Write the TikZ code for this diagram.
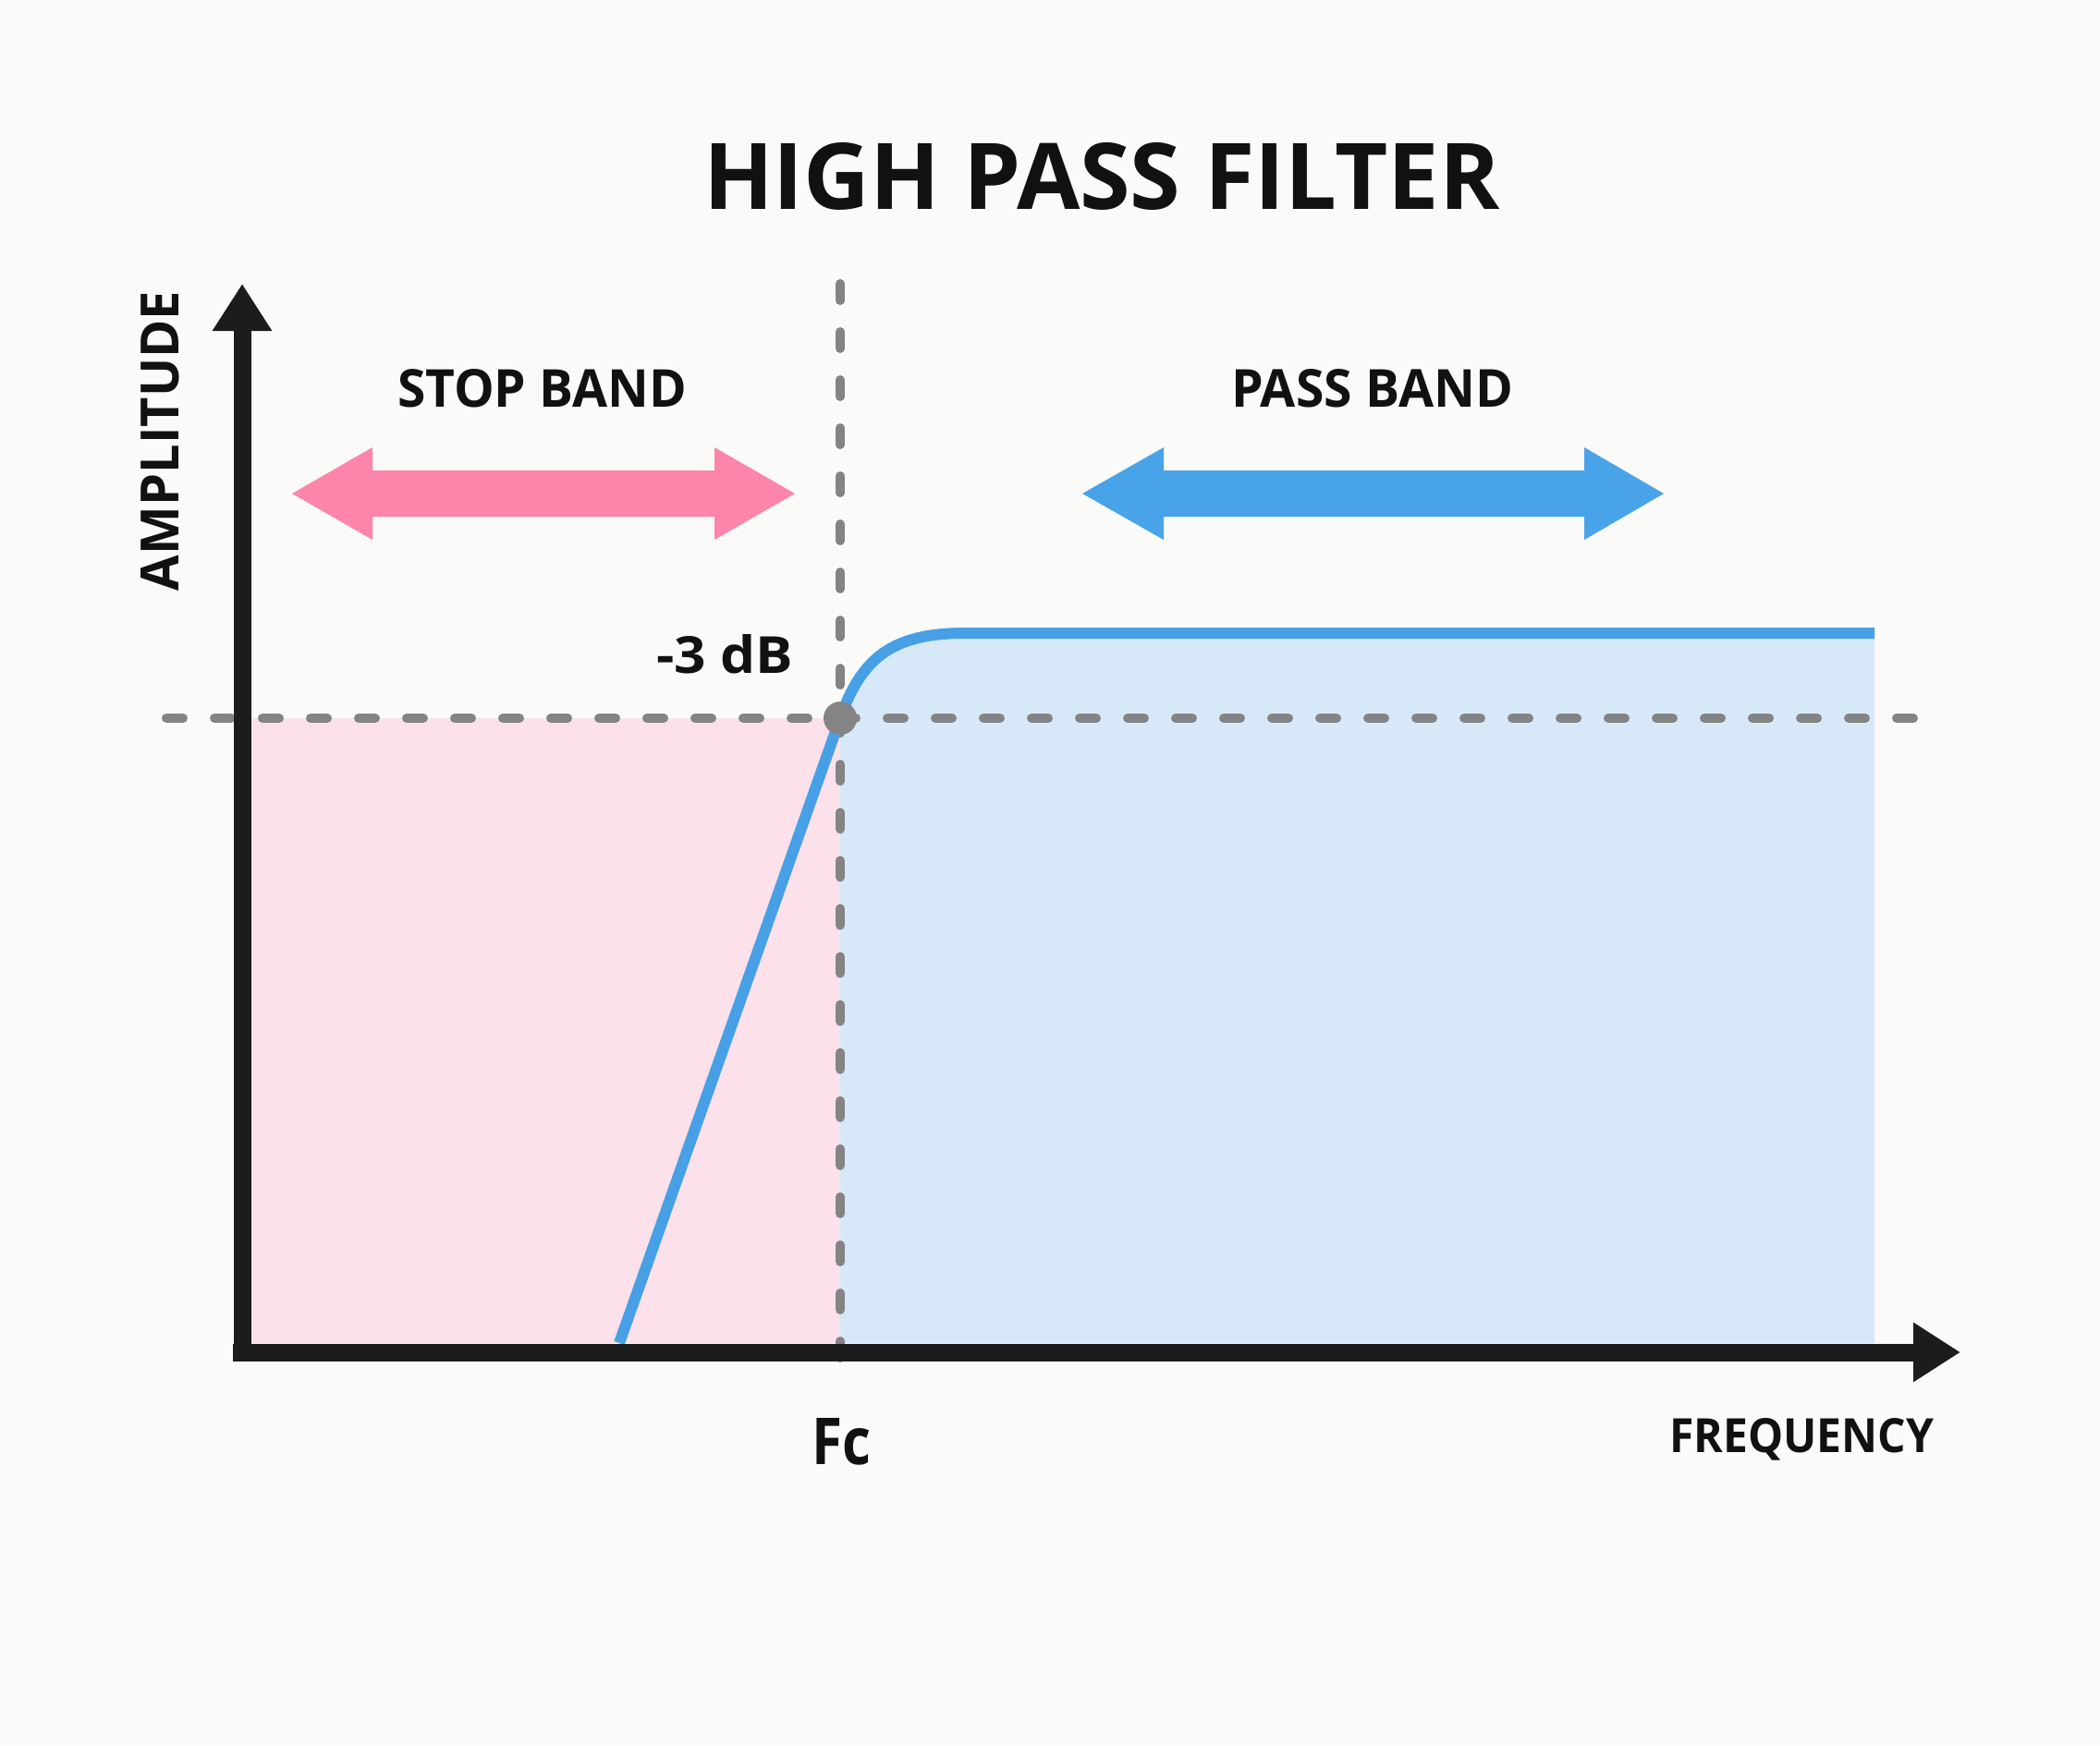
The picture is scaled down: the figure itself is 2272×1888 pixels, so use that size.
\documentclass[tikz,border=0pt]{standalone}
\usepackage{fontspec}
\setmainfont{Open Sans}
\usetikzlibrary{arrows.meta,calc}
\definecolor{bgc}{HTML}{FAFAF8}
\definecolor{pinkfill}{HTML}{FCE1EA}
\definecolor{bluefill}{HTML}{D7E9F8}
\definecolor{bluecurve}{HTML}{47A0E5}
\definecolor{pinkarrow}{HTML}{FD85AA}
\definecolor{bluearrow}{HTML}{48A3E9}
\definecolor{dashgray}{HTML}{848484}
\definecolor{axisc}{HTML}{1C1C1C}
\definecolor{txt}{HTML}{111111}
\tikzset{
  lbl/.style={anchor=base west, inner sep=0pt, outer sep=0pt, text=txt, font=\bfseries},
  guide/.style={draw=dashgray, line width=10pt, line cap=round, dash pattern=on 18pt off 34pt},
  axisline/.style={draw=axisc, line width=19pt, -{Triangle[length=51pt,width=61pt]}},
  curveline/.style={draw=bluecurve, line width=12pt, line join=round},
}
\begin{document}
\begin{tikzpicture}[x=1pt,y=-1pt]
\useasboundingbox (0,0) rectangle (2272,1888);
\fill[bgc] (0,0) rectangle (2272,1888);

% coordinates
\coordinate (O) at (262,1472);
\coordinate (ytop) at (262,307);
\coordinate (xs) at (252,1463);
\coordinate (xend) at (2121,1463);
\coordinate (fc) at (909,777);
\coordinate (hl) at (180,777);
\coordinate (hr) at (2082,777);
\coordinate (vt) at (909,307);
\coordinate (vb) at (909,1498);
\coordinate (cs) at (670,1453);
\coordinate (cf) at (1040,685);
\coordinate (ce) at (2028,685);

% fills
\fill[pinkfill] (272,777) rectangle (909,1453);
\fill[bluefill] (909,1453) -- (fc) .. controls (932,712) and (965,686) .. (cf) -- (ce) -- (2028,1453) -- cycle;

% guides
\draw[guide] (hl) -- (hr);
\draw[guide] (vt) -- (vb);

% response curve
\draw[curveline] (cs) -- (fc) .. controls (932,712) and (965,686) .. (cf) -- (ce);

% cutoff dot
\fill[dashgray] (fc) circle (18pt);

% axes
\draw[axisline] (O) -- (ytop);
\draw[axisline] (xs) -- (xend);

% band arrows
\fill[pinkarrow] (316,534) -- (403,484) -- (403,509) -- (773,509) -- (773,484) -- (860,534)
  -- (773,584) -- (773,559) -- (403,559) -- (403,584) -- cycle;
\fill[bluearrow] (1171,534) -- (1259,484) -- (1259,509) -- (1714,509) -- (1714,484) -- (1800,534)
  -- (1714,584) -- (1714,559) -- (1259,559) -- (1259,584) -- cycle;

% labels
\node[lbl] (title) at (761,226) {\resizebox{861pt}{72pt}{HIGH PASS FILTER}};
\node[lbl] (stop) at (430,440) {\resizebox{313pt}{41pt}{STOP BAND}};
\node[lbl] (pass) at (1332,440) {\resizebox{305pt}{41pt}{PASS BAND}};
\node[lbl] (db) at (710,728) {\resizebox{148pt}{42pt}{-3 dB}};
\node[lbl] (fclbl) at (878,1584) {\resizebox{64pt}{50pt}{Fc}};
\node[lbl] (freq) at (1806,1571) {\resizebox{286pt}{37pt}{FREQUENCY}};
\node[lbl, rotate=90] (amp) at (193,639) {\resizebox{324pt}{41pt}{AMPLITUDE}};
\end{tikzpicture}
\end{document}
